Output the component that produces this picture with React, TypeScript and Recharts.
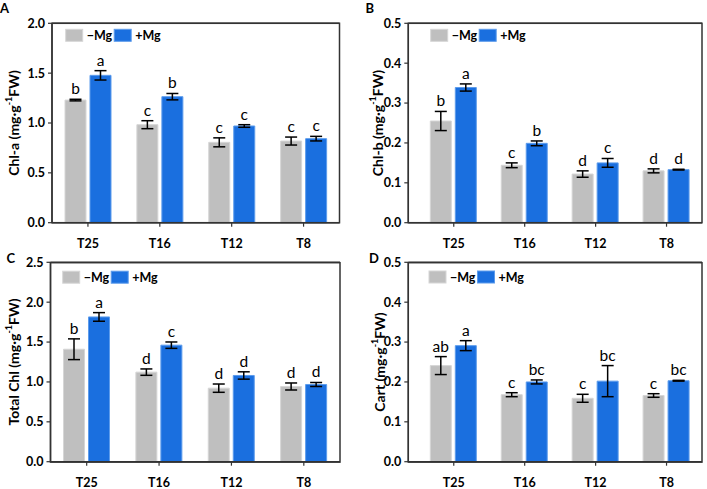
import React from 'react';
import { BarChart, Bar, XAxis, YAxis, ErrorBar, LabelList, ReferenceLine } from 'recharts';

const categories = ['T25', 'T16', 'T12', 'T8'];
const seriesNames = ['\u2212Mg', '+Mg'];

const chlaMinus = [1.23, 0.983, 0.806, 0.819];
const chlaMinusErr = [0.008, 0.04, 0.045, 0.04];
const chlaPlus = [1.478, 1.264, 0.97, 0.843];
const chlaPlusErr = [0.047, 0.032, 0.013, 0.023];
const chlaMinusLetters = ['b', 'c', 'c', 'c'];
const chlaPlusLetters = ['a', 'b', 'c', 'c'];

const chlbMinus = [0.255, 0.144, 0.122, 0.13];
const chlbMinusErr = [0.024, 0.006, 0.008, 0.005];
const chlbPlus = [0.339, 0.199, 0.15, 0.133];
const chlbPlusErr = [0.009, 0.006, 0.011, 0.001];
const chlbMinusLetters = ['b', 'c', 'd', 'd'];
const chlbPlusLetters = ['a', 'b', 'c', 'd'];

const totalMinus = [1.41, 1.123, 0.922, 0.943];
const totalMinusErr = [0.13, 0.04, 0.052, 0.044];
const totalPlus = [1.815, 1.461, 1.081, 0.968];
const totalPlusErr = [0.054, 0.04, 0.046, 0.025];
const totalMinusLetters = ['b', 'd', 'd', 'd'];
const totalPlusLetters = ['a', 'c', 'd', 'd'];

const cartMinus = [0.241, 0.168, 0.159, 0.166];
const cartMinusErr = [0.0225, 0.005, 0.01, 0.0045];
const cartPlus = [0.291, 0.2, 0.202, 0.203];
const cartPlusErr = [0.0125, 0.005, 0.039, 0.001];
const cartMinusLetters = ['ab', 'c', 'c', 'c'];
const cartPlusLetters = ['a', 'bc', 'bc', 'bc'];

const ticks05 = [0, 0.5, 1.0, 1.5, 2.0];
const ticks05b = [0, 0.5, 1.0, 1.5, 2.0, 2.5];
const ticks01 = [0, 0.1, 0.2, 0.3, 0.4, 0.5];

const FONT = 'Lato, "Open Sans", sans-serif';
const GRAY = '#bfbfbf';
const BLUE = '#1a6fdf';
const AXIS = '#333333';

const buildRows = (minus: number[], minusErr: number[], plus: number[], plusErr: number[]) =>
  categories.map((cat, i) => ({
    cat,
    minus: minus[i],
    minusErr: minusErr[i],
    plus: plus[i],
    plusErr: plusErr[i],
  }));

const makeLetterContent = (letters: string[], errs: number[], values: number[]) => (props: any) => {
  const vb = props.viewBox && props.viewBox.width !== undefined ? props.viewBox : props;
  const x = Number(vb.x);
  const y = Number(vb.y);
  const w = Number(vb.width);
  const h = Number(vb.height);
  let idx = props.index;
  if (idx === undefined || idx === null) idx = values.indexOf(Number(props.value));
  const v = values[idx];
  const top = Math.min(y, y + h);
  const pxPerUnit = v ? Math.abs(h) / v : 0;
  const errTop = top - errs[idx] * pxPerUnit;
  return (
    <text
      key={`l-${idx}`}
      x={x + w / 2}
      y={errTop - 5}
      textAnchor="middle"
      fontSize={15.5}
      fontFamily={FONT}
      fill="#000"
    >
      {letters[idx]}
    </text>
  );
};

const YLabel = ({ cx, cy, name }: { cx: number; cy: number; name: string }) => (
  <text
    transform={`rotate(-90, ${cx}, ${cy})`}
    x={cx}
    y={cy}
    textAnchor="middle"
    dominantBaseline="central"
    fontSize={14}
    fontWeight={700}
    fontFamily={FONT}
    fill="#000"
  >
    <tspan>{name} (mg·g</tspan>
    <tspan dy={-5} fontSize={9}>-1</tspan>
    <tspan dy={5}>FW)</tspan>
  </text>
);

type Layout = {
  left: number;
  top: number;
  width: number;
  plotLeft: number;
  plotRight: number;
  xPad: number;
  labelX: number;
};

type PanelProps = Layout & {
  name: string;
  yMax: number;
  ticks: number[];
  minus: number[];
  minusErr: number[];
  plus: number[];
  plusErr: number[];
  minusLetters: string[];
  plusLetters: string[];
};

const PLOT_TOP = 23.3;
const CHART_H = 250;
const X_AXIS_H = 25;
const MARGIN_B = 2.3;
const PLOT_BOTTOM = CHART_H - X_AXIS_H - MARGIN_B;

const layouts: Layout[] = [
  { left: 0, top: 0, width: 354, plotLeft: 52, plotRight: 339.5, xPad: 0, labelX: 12.5 },
  { left: 354, top: 0, width: 353, plotLeft: 54.3, plotRight: 348, xPad: 10, labelX: 23 },
  { left: 0, top: 239.4, width: 354, plotLeft: 50.5, plotRight: 340, xPad: 0, labelX: 12.5 },
  { left: 354, top: 239.4, width: 353, plotLeft: 54.3, plotRight: 348, xPad: 10, labelX: 25 },
];

const Panel = (p: PanelProps) => {
  const data = buildRows(p.minus, p.minusErr, p.plus, p.plusErr);
  const cy = (PLOT_TOP + PLOT_BOTTOM) / 2;
  const axisLine = { stroke: AXIS, strokeWidth: 1.4 };
  const tickStyle = { fontSize: 12.5, fontWeight: 700, fill: '#000', fontFamily: FONT };
  return (
    <div style={{ position: 'absolute', left: p.left, top: p.top, width: p.width, height: CHART_H }}>
      <BarChart
        width={p.width}
        height={CHART_H}
        data={data}
        margin={{ top: PLOT_TOP, right: p.width - p.plotRight, bottom: MARGIN_B, left: 0 }}
        barSize={21}
        barGap={4}
      >
        <XAxis
          dataKey="cat"
          height={X_AXIS_H}
          padding={{ left: p.xPad, right: 0 }}
          axisLine={axisLine}
          tickLine={{ stroke: AXIS, strokeWidth: 1.2 }}
          tickSize={4}
          tickMargin={12}
          tick={tickStyle}
        />
        <YAxis
          width={p.plotLeft}
          domain={[0, p.yMax]}
          ticks={p.ticks}
          interval={0}
          tickFormatter={(v: number) => v.toFixed(1)}
          axisLine={axisLine}
          tickLine={{ stroke: AXIS, strokeWidth: 1.2 }}
          tickSize={4}
          tickMargin={3}
          tick={tickStyle}
          label={<YLabel cx={p.labelX} cy={cy} name={p.name} />}
        />
        <ReferenceLine y={p.yMax} stroke={AXIS} strokeWidth={1.4} ifOverflow="visible" />
        <Bar dataKey="minus" fill={GRAY} stroke="#d6d6d6" strokeWidth={1} isAnimationActive={false}>
          <ErrorBar dataKey="minusErr" width={6} strokeWidth={1.5} stroke="#000" direction="y" />
          <LabelList dataKey="minus" content={makeLetterContent(p.minusLetters, p.minusErr, p.minus)} />
        </Bar>
        <Bar dataKey="plus" fill={BLUE} stroke="#5d9cec" strokeWidth={1} isAnimationActive={false}>
          <ErrorBar dataKey="plusErr" width={6} strokeWidth={1.5} stroke="#000" direction="y" />
          <LabelList dataKey="plus" content={makeLetterContent(p.plusLetters, p.plusErr, p.plus)} />
        </Bar>
      </BarChart>
    </div>
  );
};

const panelLetters = [
  { t: 'A', x: 0, y: 12.5 },
  { t: 'B', x: 365.5, y: 12.5 },
  { t: 'C', x: 6.5, y: 263.3 },
  { t: 'D', x: 369, y: 263.3 },
];

const legendPos = [
  { x: 65.7, y: 29.3 },
  { x: 430.7, y: 29.3 },
  { x: 62.7, y: 271.2 },
  { x: 429, y: 271 },
];

export default function App() {
  const colors = [GRAY, BLUE];
  const strokes = ['#d6d6d6', '#5d9cec'];
  return (
    <div style={{ position: 'absolute', left: 0, top: 0, width: 707, height: 489, background: '#fff', overflow: 'hidden' }}>
      <Panel
        {...layouts[0]}
        name="Chl-a" yMax={2.0} ticks={ticks05}
        minus={chlaMinus} minusErr={chlaMinusErr} plus={chlaPlus} plusErr={chlaPlusErr}
        minusLetters={chlaMinusLetters} plusLetters={chlaPlusLetters}
      />
      <Panel
        {...layouts[1]}
        name="Chl-b" yMax={0.5} ticks={ticks01}
        minus={chlbMinus} minusErr={chlbMinusErr} plus={chlbPlus} plusErr={chlbPlusErr}
        minusLetters={chlbMinusLetters} plusLetters={chlbPlusLetters}
      />
      <Panel
        {...layouts[2]}
        name="Total Chl" yMax={2.5} ticks={ticks05b}
        minus={totalMinus} minusErr={totalMinusErr} plus={totalPlus} plusErr={totalPlusErr}
        minusLetters={totalMinusLetters} plusLetters={totalPlusLetters}
      />
      <Panel
        {...layouts[3]}
        name="Cart" yMax={0.5} ticks={ticks01}
        minus={cartMinus} minusErr={cartMinusErr} plus={cartPlus} plusErr={cartPlusErr}
        minusLetters={cartMinusLetters} plusLetters={cartPlusLetters}
      />
      <svg width={707} height={489} style={{ position: 'absolute', left: 0, top: 0, pointerEvents: 'none' }}>
        {layouts.map((l, i) => (
          <rect
            key={`frame-${i}`}
            x={l.left + l.plotLeft}
            y={l.top + PLOT_TOP}
            width={l.plotRight - l.plotLeft}
            height={PLOT_BOTTOM - PLOT_TOP}
            fill="none"
            stroke={AXIS}
            strokeWidth={1.5}
          />
        ))}
        {panelLetters.map((l) => (
          <text key={l.t} x={l.x} y={l.y} fontSize={13} fontWeight={700} fontFamily={FONT} fill="#000">
            {l.t}
          </text>
        ))}
        {legendPos.map((lp, i) => (
          <g key={i}>
            {seriesNames.map((n, j) => (
              <g key={n}>
                <rect x={lp.x + j * 48.5} y={lp.y} width={17} height={12} fill={colors[j]} stroke={strokes[j]} strokeWidth={1} />
                <text x={lp.x + j * 48.5 + 21} y={lp.y + 10.5} fontSize={12.5} fontWeight={700} fontFamily={FONT} fill="#000">
                  {n}
                </text>
              </g>
            ))}
          </g>
        ))}
      </svg>
    </div>
  );
}
